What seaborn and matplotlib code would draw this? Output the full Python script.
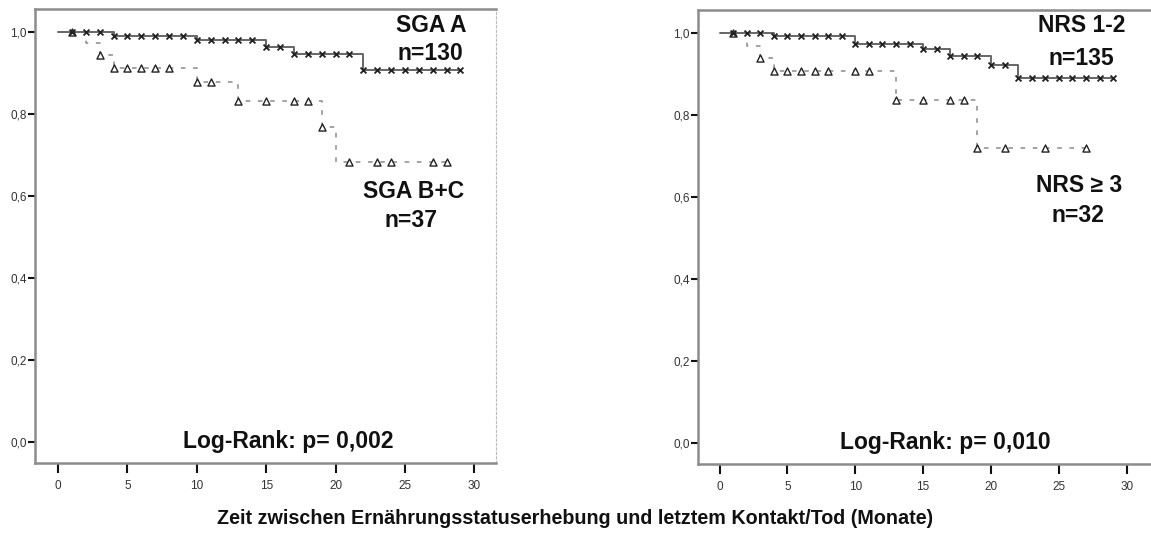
import matplotlib
matplotlib.use("Agg")
import matplotlib.pyplot as plt
import seaborn as sns
import numpy as np

# Kaplan-Meier step data (months, cumulative survival)
sga_a_t = [0, 4, 10, 15, 17, 22, 29]
sga_a_s = [1.0, 0.991, 0.980, 0.964, 0.946, 0.907, 0.907]
sga_a_cens = [1, 2, 3, 4, 5, 6, 7, 8, 9, 10, 11, 12, 13, 14, 15, 16, 17, 18, 19, 20, 21,
              22, 23, 24, 25, 26, 27, 28, 29]

sga_bc_t = [0, 2, 3, 4, 10, 13, 19, 20, 28]
sga_bc_s = [1.0, 0.972, 0.944, 0.913, 0.877, 0.832, 0.767, 0.682, 0.682]
sga_bc_cens = [1, 3, 4, 5, 6, 7, 8, 10, 11, 13, 15, 17, 18, 19, 21, 23, 24, 27, 28]

nrs12_t = [0, 4, 10, 15, 17, 20, 22, 29]
nrs12_s = [1.0, 0.992, 0.974, 0.961, 0.943, 0.922, 0.891, 0.891]
nrs12_cens = [1, 2, 3, 4, 5, 6, 7, 8, 9, 10, 11, 12, 13, 14, 15, 16, 17, 18, 19, 20, 21,
              22, 23, 24, 25, 26, 27, 28, 29]

nrs3_t = [0, 2, 3, 4, 13, 19, 27]
nrs3_s = [1.0, 0.969, 0.938, 0.906, 0.837, 0.718, 0.718]
nrs3_cens = [1, 3, 4, 5, 6, 7, 8, 10, 11, 13, 15, 17, 18, 19, 21, 24, 27]

y_ticks = [0.0, 0.2, 0.4, 0.6, 0.8, 1.0]
y_labels = ["0,0", "0,2", "0,4", "0,6", "0,8", "1,0"]
x_ticks = [0, 5, 10, 15, 20, 25, 30]

# group labels: (text, x, baseline y)
panels = [
    dict(good=(sga_a_t, sga_a_s, sga_a_cens), bad=(sga_bc_t, sga_bc_s, sga_bc_cens),
         labels=[("SGA A", 26.9, 1.0), ("n=130", 26.8, 0.932),
                 ("SGA B+C", 25.65, 0.595), ("n=37", 25.4, 0.524)],
         p="Log-Rank: p= 0,002", xlim=(-1.66, 31.56)),
    dict(good=(nrs12_t, nrs12_s, nrs12_cens), bad=(nrs3_t, nrs3_s, nrs3_cens),
         labels=[("NRS 1-2", 26.7, 1.003), ("n=135", 26.65, 0.922),
                 ("NRS \u2265 3", 26.5, 0.611), ("n=32", 26.4, 0.538)],
         p="Log-Rank: p= 0,010", xlim=(-1.59, 31.79)),
]

sns.set_theme(style="white")
plt.rcParams["font.family"] = ["Liberation Sans", "DejaVu Sans"]

fig = plt.figure(figsize=(11.51, 5.4), dpi=100)
ax1 = fig.add_axes([35 / 1151, 1 - 463 / 540, (496 - 35) / 1151, (463 - 9) / 540])
ax2 = fig.add_axes([698 / 1151, 1 - 464 / 540, (1151 - 698) / 1151, (464 - 10) / 540])


def step_value(t, s, x):
    idx = np.searchsorted(t, x, side="right") - 1
    return np.array(s)[idx]


for ax, pn in zip([ax1, ax2], panels):
    gt, gs_, gc = pn["good"]
    bt, bs, bc = pn["bad"]

    # survival curves
    sns.lineplot(x=bt, y=bs, ax=ax, drawstyle="steps-post", color="#8a8a8a",
                 linewidth=1.1, linestyle=(0, (3, 5)))
    sns.lineplot(x=gt, y=gs_, ax=ax, drawstyle="steps-post", color="#666666",
                 linewidth=1.4)

    # censoring marks
    sns.scatterplot(x=bc, y=step_value(bt, bs, bc), ax=ax, marker="^", s=26,
                    facecolor="white", edgecolor="#222222", linewidth=1.0, zorder=4)
    sns.scatterplot(x=gc, y=step_value(gt, gs_, gc), ax=ax, marker="x", s=18,
                    color="#222222", linewidth=1.3, zorder=5)

    ax.set_xlim(*pn["xlim"])
    ax.set_ylim(-0.052, 1.056)
    ax.set_xticks(x_ticks)
    ax.set_xticklabels([str(v) for v in x_ticks])
    ax.set_yticks(y_ticks)
    ax.set_yticklabels(y_labels)
    ax.set_xlabel("")
    ax.set_ylabel("")
    ax.tick_params(axis="both", bottom=True, left=True, labelsize=8.5,
                   colors="#111111", labelcolor="#333333", direction="out", width=1.5)
    ax.tick_params(axis="y", length=5, pad=1)
    ax.tick_params(axis="x", length=7, pad=5)

    for side in ["left", "bottom", "top"]:
        ax.spines[side].set_color("#8c8c8c")
        ax.spines[side].set_linewidth(1.8)
    ax.spines["right"].set_color("#bbbbbb")
    ax.spines["right"].set_linewidth(0.8)
    ax.spines["right"].set_linestyle((0, (2, 2)))

    for txt, tx, ty in pn["labels"]:
        ax.text(tx, ty, txt, ha="center", va="baseline", fontsize=16.5,
                fontweight="bold", color="#111111")
    ax.text(16.6, 0.0, pn["p"], ha="center", va="center", fontsize=16.5,
            fontweight="bold", color="#111111")

ax2.spines["right"].set_visible(False)

fig.text(0.5, 1 - 518 / 540,
         "Zeit zwischen Ern\u00e4hrungsstatuserhebung und letztem Kontakt/Tod (Monate)",
         ha="center", va="center", fontsize=14.2, fontweight="bold", color="#111111")

plt.savefig("out.png", dpi=100)
